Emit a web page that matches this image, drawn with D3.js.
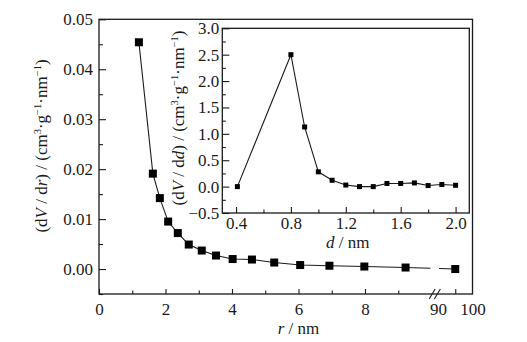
<!DOCTYPE html>
<html>
<head>
<meta charset="utf-8">
<script src="https://cdn.jsdelivr.net/npm/d3@7/dist/d3.min.js"></script>
<style>
  html, body { margin: 0; padding: 0; background: #fff; }
  svg, svg text, svg tspan { font-family: "Liberation Serif", "Times New Roman", Tinos, serif !important; }
</style>
</head>
<body>
<svg id="chart" width="527" height="342"></svg>
<script>
// Pore size distribution (main: dV/dr vs r, inset: dV/dd vs d)
const poreRadius = [1.2, 1.62, 1.83, 2.08, 2.37, 2.70, 3.09, 3.52, 4.02, 4.60, 5.27, 6.05, 6.93, 7.98, 9.22, 95];
const dVdr = [0.0454, 0.0191, 0.0142, 0.0095, 0.0072, 0.0049, 0.0037, 0.0027, 0.0020, 0.0019, 0.0013, 0.0008, 0.00066, 0.0005, 0.0003, 0.0000];

const poreDiameter = [0.41, 0.8, 0.9, 1.0, 1.1, 1.2, 1.3, 1.4, 1.5, 1.6, 1.7, 1.8, 1.9, 2.0];
const dVdd = [0.0, 2.5, 1.13, 0.28, 0.12, 0.03, 0.0, 0.0, 0.06, 0.06, 0.07, 0.02, 0.04, 0.025];

const mainYTicks = [0, 0.01, 0.02, 0.03, 0.04, 0.05];
const mainYMinor = [-0.005, 0.005, 0.015, 0.025, 0.035, 0.045];
const mainXTicksLow = [0, 2, 4, 6, 8];
const mainXMinorLow = [1, 3, 5, 7, 9];
const mainXTicksHigh = [90, 100];
const mainXMinorHigh = [95];
const insetYTicks = [-0.5, 0.0, 0.5, 1.0, 1.5, 2.0, 2.5, 3.0];
const insetYMinor = [-0.25, 0.25, 0.75, 1.25, 1.75, 2.25, 2.75];
const insetXTicks = [0.4, 0.8, 1.2, 1.6, 2.0];
const insetXMinor = [0.6, 1.0, 1.4, 1.8];

const svg = d3.select("#chart");
const ink = "#1a1a1a";
const fs = 17;
const serif = '"Liberation Serif", "Times New Roman", Tinos, serif';

// ---------- main panel ----------
const M = { left: 99, right: 472.5, top: 19.3, bottom: 294 };
const xLow = d3.scaleLinear().domain([0, 10]).range([M.left, 431.5]);
const xHigh = d3.scaleLinear().domain([90, 100]).range([438, M.right]);
const xMain = r => (r <= 10 ? xLow(r) : xHigh(r));
const yMain = d3.scaleLinear().domain([-0.005, 0.05]).range([M.bottom, M.top]);

const main = svg.append("g");

function styleAxis(g) {
  g.attr("font-family", null).attr("font-size", null);
  g.select(".domain").remove();
  g.selectAll("line").attr("stroke", ink).attr("stroke-width", 1.1);
  g.selectAll("text").attr("fill", ink).style("font-size", fs + "px").style("font-family", serif);
}

// y axis
main.append("g").attr("transform", `translate(${M.left},0)`)
  .call(d3.axisLeft(yMain).tickValues(mainYTicks).tickSizeInner(-7).tickSizeOuter(0)
    .tickPadding(6).tickFormat(d3.format(".2f")))
  .call(styleAxis);
main.append("g").attr("transform", `translate(${M.left},0)`)
  .call(d3.axisLeft(yMain).tickValues(mainYMinor).tickSizeInner(-4).tickSizeOuter(0).tickFormat(""))
  .call(styleAxis);

// x axis (broken)
main.append("g").attr("transform", `translate(0,${M.bottom})`)
  .call(d3.axisBottom(xLow).tickValues(mainXTicksLow).tickSizeInner(-5).tickSizeOuter(0).tickPadding(9).tickFormat(d3.format("d")))
  .call(styleAxis);
main.append("g").attr("transform", `translate(0,${M.bottom})`)
  .call(d3.axisBottom(xLow).tickValues(mainXMinorLow).tickSizeInner(-3.5).tickSizeOuter(0).tickFormat(""))
  .call(styleAxis);
main.append("g").attr("transform", `translate(0,${M.bottom})`)
  .call(d3.axisBottom(xHigh).tickValues(mainXTicksHigh).tickSizeInner(0).tickSizeOuter(0).tickPadding(9).tickFormat(d3.format("d")))
  .call(styleAxis);
main.append("g").attr("transform", `translate(0,${M.bottom})`)
  .call(d3.axisBottom(xHigh).tickValues(mainXMinorHigh).tickSizeInner(-5).tickSizeOuter(0).tickFormat(""))
  .call(styleAxis);

// frame
main.append("rect")
  .attr("x", M.left).attr("y", M.top)
  .attr("width", M.right - M.left).attr("height", M.bottom - M.top)
  .attr("fill", "none").attr("stroke", ink).attr("stroke-width", 1.3);

// axis break marks
const brk = (xLow(10) + xHigh(90)) / 2;
[-2.6, 2.6].forEach(off => {
  main.append("line")
    .attr("x1", brk + off - 3).attr("y1", M.bottom + 5)
    .attr("x2", brk + off + 3).attr("y2", M.bottom - 5)
    .attr("stroke", ink).attr("stroke-width", 1.1);
});

// data line, interrupted at the axis break
const defs = svg.append("defs");
defs.append("clipPath").attr("id", "clipLow").append("rect")
  .attr("x", M.left).attr("y", M.top).attr("width", xLow(10) - 1 - M.left).attr("height", M.bottom - M.top);
defs.append("clipPath").attr("id", "clipHigh").append("rect")
  .attr("x", xHigh(90) + 1).attr("y", M.top).attr("width", M.right - xHigh(90) - 1).attr("height", M.bottom - M.top);

const mainPts = poreRadius.map((r, i) => [xMain(r), yMain(dVdr[i])]);
const lineGen = d3.line();
["clipLow", "clipHigh"].forEach(id => {
  main.append("path").attr("d", lineGen(mainPts))
    .attr("clip-path", `url(#${id})`)
    .attr("fill", "none").attr("stroke", ink).attr("stroke-width", 1.1);
});
main.selectAll("rect.pt").data(mainPts).join("rect").attr("class", "pt")
  .attr("x", d => d[0] - 4).attr("y", d => d[1] - 4)
  .attr("width", 8).attr("height", 8).attr("fill", "#000");

// axis titles with italic symbols and superscripts
function richText(parent, parts, size) {
  const t = parent.append("text").attr("fill", ink)
    .style("font-size", size + "px").style("font-family", serif);
  parts.forEach(p => {
    const s = t.append("tspan").text(p.t);
    if (p.i) s.style("font-style", "italic");
    if (p.sup) s.style("font-size", (size * 0.62) + "px").attr("dy", -size * 0.38);
    if (p.back) s.attr("dy", size * 0.38);
  });
  return t;
}
const unitParts = [
  { t: " / (cm" }, { t: "3", sup: true }, { t: "·g", back: true }, { t: "−1", sup: true },
  { t: "·nm", back: true }, { t: "−1", sup: true }, { t: ")", back: true }
];

richText(main.append("g").attr("transform", "translate(41,146) rotate(-90)"),
  [{ t: "(d" }, { t: "V", i: true }, { t: " / d" }, { t: "r", i: true }, { t: ")" }, ...unitParts], fs)
  .attr("text-anchor", "middle").attr("dy", "0.35em");

richText(main.append("g").attr("transform", `translate(${xLow(6)},334)`),
  [{ t: "r", i: true }, { t: " / nm" }], fs)
  .attr("text-anchor", "middle");

// ---------- inset ----------
const I = { left: 222.3, right: 469.3, top: 28.3, bottom: 213 };
const xIn = d3.scaleLinear().domain([0.3, 2.1]).range([I.left, I.right]);
const yIn = d3.scaleLinear().domain([-0.5, 3.0]).range([I.bottom, I.top]);
const inset = svg.append("g");

inset.append("rect")
  .attr("x", I.left).attr("y", I.top).attr("width", I.right - I.left).attr("height", I.bottom - I.top)
  .attr("fill", "#fff");

inset.append("g").attr("transform", `translate(${I.left},0)`)
  .call(d3.axisLeft(yIn).tickValues(insetYTicks).tickSizeInner(-7).tickSizeOuter(0).tickPadding(3)
    .tickFormat(d => d3.format(".1f")(d).replace("-", "−")))
  .call(styleAxis);
inset.append("g").attr("transform", `translate(${I.left},0)`)
  .call(d3.axisLeft(yIn).tickValues(insetYMinor).tickSizeInner(-3.5).tickSizeOuter(0).tickFormat(""))
  .call(styleAxis);
inset.append("g").attr("transform", `translate(0,${I.bottom})`)
  .call(d3.axisBottom(xIn).tickValues(insetXTicks).tickSizeInner(-6).tickSizeOuter(0).tickPadding(4).tickFormat(d3.format(".1f")))
  .call(styleAxis);
inset.append("g").attr("transform", `translate(0,${I.bottom})`)
  .call(d3.axisBottom(xIn).tickValues(insetXMinor).tickSizeInner(-3.5).tickSizeOuter(0).tickFormat(""))
  .call(styleAxis);

inset.append("rect")
  .attr("x", I.left).attr("y", I.top).attr("width", I.right - I.left).attr("height", I.bottom - I.top)
  .attr("fill", "none").attr("stroke", ink).attr("stroke-width", 1.3);

const inPts = poreDiameter.map((d, i) => [xIn(d), yIn(dVdd[i])]);
inset.append("path").attr("d", lineGen(inPts))
  .attr("fill", "none").attr("stroke", ink).attr("stroke-width", 1.1);
inset.selectAll("rect.pt").data(inPts).join("rect").attr("class", "pt")
  .attr("x", d => d[0] - 2.5).attr("y", d => d[1] - 2.5)
  .attr("width", 5).attr("height", 5).attr("fill", "#000");

richText(inset.append("g").attr("transform", "translate(178,118) rotate(-90)"),
  [{ t: "(d" }, { t: "V", i: true }, { t: " / d" }, { t: "d", i: true }, { t: ")" }, ...unitParts], fs)
  .attr("text-anchor", "middle").attr("dy", "0.35em");

richText(inset.append("g").attr("transform", `translate(${xIn(1.2) + 2},247.5)`),
  [{ t: "d", i: true }, { t: " / nm" }], fs)
  .attr("text-anchor", "middle");
</script>
</body>
</html>
